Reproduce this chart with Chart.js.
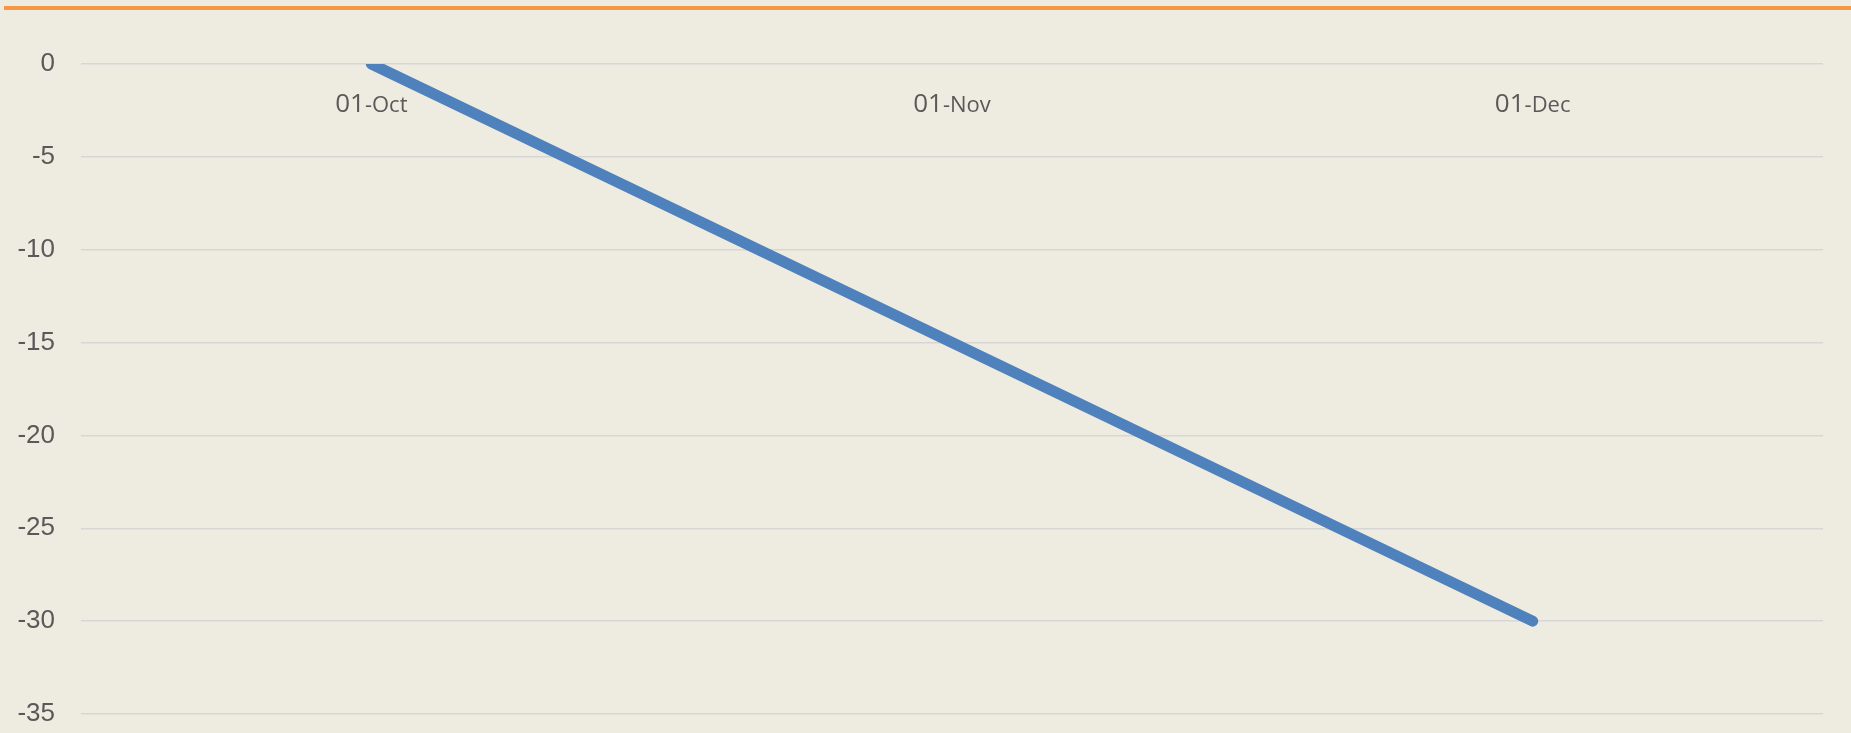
<!DOCTYPE html>
<html>
<head>
<meta charset="utf-8">
<script src="https://cdn.jsdelivr.net/npm/chart.js@4.4.1/dist/chart.umd.min.js"></script>
<style>
  html, body { margin: 0; padding: 0; background: #eeece1; overflow: hidden; }
  .wrap { position: relative; width: 1851px; height: 733px; }
  .topRule { position: absolute; left: 4px; right: 0; top: 6px; height: 4px; background: #f79646; }
  canvas { position: absolute; left: 0; top: 0; }
</style>
</head>
<body>
<div class="wrap">
  <div class="topRule"></div>
  <canvas id="chart"></canvas>
</div>
<script>
const categories = ["01-Oct", "01-Nov", "01-Dec"];
const seriesValues = [0, -15, -30];
const yTicks = { min: -35, max: 0, step: 5 };

// x labels sit just under the zero line, day number bigger than the month
const zeroLineLabels = {
  id: "zeroLineLabels",
  afterDraw(chart) {
    const ctx = chart.ctx;
    const xScale = chart.scales.x;
    const yScale = chart.scales.y;
    const baseY = yScale.getPixelForValue(0) + 48;
    ctx.save();
    ctx.fillStyle = "#595959";
    ctx.textBaseline = "alphabetic";
    ctx.textAlign = "left";
    categories.forEach((label, i) => {
      const cut = label.indexOf("-");
      const day = label.slice(0, cut);
      const month = label.slice(cut);
      const dayFont = "26px 'Open Sans', sans-serif";
      const monFont = "22px 'Open Sans', sans-serif";
      ctx.font = dayFont;
      const wDay = ctx.measureText(day).width;
      ctx.font = monFont;
      const wMon = ctx.measureText(month).width;
      const x = xScale.getPixelForValue(i) - (wDay + wMon) / 2;
      ctx.font = dayFont;
      ctx.fillText(day, x, baseY);
      ctx.font = monFont;
      ctx.fillText(month, x + wDay, baseY);
    });
    ctx.restore();
  },
};

const ctx = document.getElementById("chart").getContext("2d");
ctx.canvas.width = 1851;
ctx.canvas.height = 733;

new Chart(ctx, {
  type: "line",
  data: {
    labels: categories,
    datasets: [
      {
        data: seriesValues,
        borderColor: "#4f81bd",
        borderWidth: 11,
        borderCapStyle: "round",
        borderJoinStyle: "round",
        pointRadius: 0,
        pointHoverRadius: 0,
        tension: 0,
        fill: false,
        clip: 0,
      },
    ],
  },
  options: {
    responsive: false,
    animation: false,
    events: [],
    layout: { padding: { left: 0, right: 28, top: 64, bottom: 19 } },
    plugins: {
      legend: { display: false },
      tooltip: { enabled: false },
    },
    scales: {
      x: {
        type: "category",
        display: false,
        offset: true,
      },
      y: {
        min: yTicks.min,
        max: yTicks.max,
        afterFit: (scale) => {
          scale.width = 81;
        },
        border: { display: false },
        grid: {
          color: "#d6d6d6",
          lineWidth: 1.5,
          drawTicks: true,
          tickLength: 26,
          tickColor: "transparent",
        },
        ticks: {
          stepSize: yTicks.step,
          padding: 0,
          color: "#595959",
          font: { family: "'Liberation Sans', Arial, sans-serif", size: 26 },
        },
      },
    },
  },
  plugins: [zeroLineLabels],
});
</script>
</body>
</html>
